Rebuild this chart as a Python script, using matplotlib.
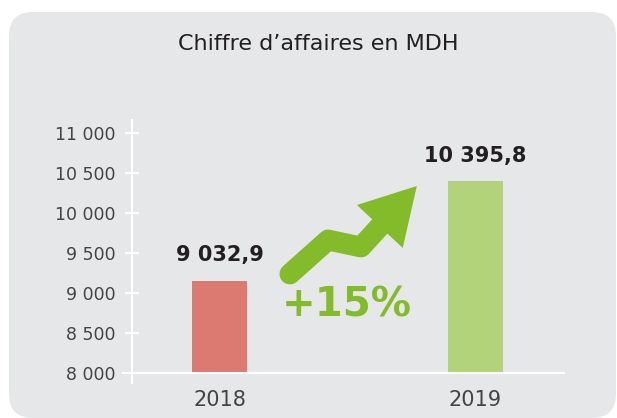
import matplotlib
matplotlib.use("Agg")
import matplotlib.pyplot as plt
from matplotlib.patches import FancyBboxPatch, Polygon
from matplotlib.transforms import IdentityTransform

# -----------------------------
# Daten
# -----------------------------
years = ["2018", "2019"]
bar_heights = [9150, 10396]          # hauteur
value_labels = ["9 032,9", "10 395,8"]
growth_label = "+15%"
y_ticks = [8000, 8500, 9000, 9500, 10000, 10500, 11000]
y_tick_labels = ["8 000", "8 500", "9 000", "9 500", "10 000", "10 500", "11 000"]
title = "Chiffre d\u2019affaires en MDH"
base = 8000

bar_colors = ["#dc7a72", "#b3d37a"]
arrow_color = "#84bb2a"
panel_color = "#e6e7e9"
text_dark = "#231f20"

plt.rcParams["font.family"] = ["DejaVu Sans"]

fig = plt.figure(figsize=(6.17, 4.18), dpi=100)
fig.patch.set_facecolor("white")

# panneau gris arrondi (en pixels)
panel = FancyBboxPatch((9, 0), 607, 406,
                       boxstyle="round,pad=0,rounding_size=24",
                       transform=IdentityTransform(),
                       facecolor=panel_color, edgecolor="none", zorder=-10)
fig.patches.append(panel)

fig.text(318 / 617, 1 - 44 / 418, title, ha="center", va="center",
         fontsize=16, color=text_dark)

ax = fig.add_axes([122 / 617, 35 / 418, 443 / 617, 263 / 418])
ax.set_facecolor("none")
ax.set_zorder(1)

x = [0, 1]
ax.bar(x, [h - base for h in bar_heights], bottom=base, width=0.215,
       color=bar_colors, zorder=2)

ax.set_xlim(-0.381, 1.35)
ax.set_ylim(7875, 11162.5)

for xi, h, lab in zip(x, bar_heights, value_labels):
    ax.text(xi, h + 320, lab, ha="center", va="center", fontsize=15,
            fontweight="bold", color=text_dark)

# axes blancs
for s in ["top", "right", "bottom"]:
    ax.spines[s].set_visible(False)
ax.spines["left"].set_position(("data", -0.342))
ax.spines["left"].set_color("white")
ax.spines["left"].set_linewidth(1.5)
ax.axhline(base, color="white", lw=1.5, zorder=3)

ax.set_yticks(y_ticks)
ax.set_yticklabels(y_tick_labels)
ax.tick_params(axis="y", direction="inout", length=10, width=1.5,
               color="white", pad=7, labelsize=12.5, labelcolor="#444444")
ax.set_xticks(x)
ax.set_xticklabels(years)
ax.tick_params(axis="x", length=0, pad=5, labelsize=15, labelcolor="#444444")

# fleche verte (decoration)
path_x = [0.275, 0.424, 0.553, 0.646]
path_y = [9237.5, 9662.5, 9575, 9900]
ax.plot(path_x, path_y, color=arrow_color, lw=15, solid_capstyle="round",
        solid_joinstyle="round", zorder=4, clip_on=False)
head = Polygon([[0.771, 10337.5], [0.537, 10100], [0.716, 9562.5]],
               closed=True, facecolor=arrow_color, edgecolor="none", zorder=4)
ax.add_patch(head)

ax.text(0.498, 8840, growth_label, ha="center", va="center", fontsize=29,
        fontweight="bold", color=arrow_color)

fig.savefig("out.png", dpi=100)
